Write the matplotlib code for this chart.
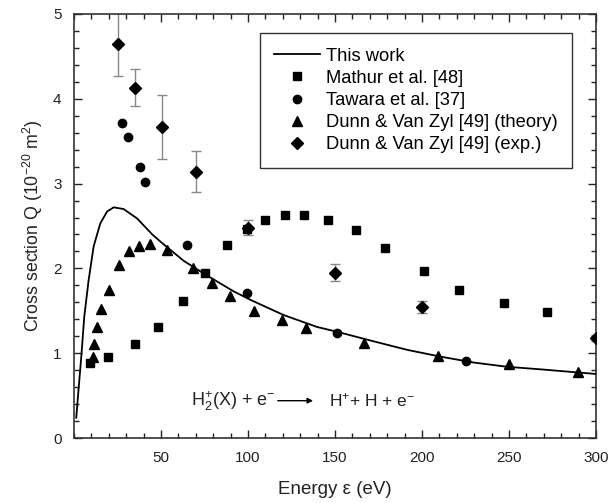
import matplotlib
matplotlib.use("Agg")
import matplotlib.pyplot as plt
from matplotlib.ticker import MultipleLocator, FixedLocator

plt.rcParams['font.family'] = ['Liberation Sans', 'DejaVu Sans']
plt.rcParams['mathtext.fontset'] = 'custom'
plt.rcParams['mathtext.rm'] = 'Liberation Sans'
plt.rcParams['mathtext.it'] = 'Liberation Sans'

# This work (theory curve)
work_x = [1.3, 2.6, 4.2, 5.9, 8.4, 11.3, 15.1, 19, 22.8, 28.5, 36.2, 45, 50, 55.3, 63,
          74.5, 91.7, 101.3, 120.5, 139.6, 151.7, 172.2, 191.4, 210.5, 229.7, 248.9,
          268, 300]
work_y = [0.24, 0.57, 0.96, 1.43, 1.86, 2.26, 2.53, 2.67, 2.72, 2.70, 2.59, 2.40, 2.31, 2.22, 2.09,
          1.94, 1.73, 1.63, 1.45, 1.31, 1.25, 1.14, 1.04, 0.96, 0.89, 0.84,
          0.81, 0.755]

# Mathur et al. [48]
mathur_x = [9, 19.5, 35, 48, 62.5, 75, 88, 99.5, 110, 121, 132, 146, 162, 179, 201, 221, 247, 272]
mathur_y = [0.89, 0.96, 1.11, 1.31, 1.62, 1.95, 2.28, 2.46, 2.57, 2.63, 2.63, 2.57, 2.45,
            2.24, 1.97, 1.75, 1.59, 1.48]

# Tawara et al. [37]
tawara_x = [27.5, 31, 38, 41, 65, 99.5, 151, 225]
tawara_y = [3.72, 3.55, 3.19, 3.02, 2.28, 1.71, 1.24, 0.91]

# Dunn & Van Zyl [49] (theory)
dth_x = [10.7, 11.3, 13, 15.7, 19.9, 26, 31.8, 37.1, 43.7, 53.6, 68.2, 79.3, 89.7,
         103.4, 119.4, 133.2, 166.7, 209, 249.8, 289.7]
dth_y = [0.955, 1.11, 1.31, 1.52, 1.75, 2.04, 2.20, 2.27, 2.29, 2.22, 2.01, 1.83, 1.68,
         1.50, 1.39, 1.30, 1.12, 0.97, 0.87, 0.78]

# Dunn & Van Zyl [49] (exp.)
dex_x = [25.1, 35.2, 50.3, 69.9, 100, 150, 200.2, 300]
dex_y = [4.65, 4.13, 3.67, 3.14, 2.48, 1.95, 1.54, 1.18]
dex_err = [0.38, 0.22, 0.38, 0.24, 0.09, 0.10, 0.07, 0.04]

fig = plt.figure(figsize=(6.08, 5.03), dpi=100)
ax = fig.add_axes([0.1217, 0.1292, 0.8586, 0.843])

ax.errorbar(dex_x, dex_y, yerr=dex_err, fmt='none', ecolor='#888888', elinewidth=1,
            capsize=3.5, capthick=1, zorder=2)
ax.plot(work_x, work_y, '-', color='black', lw=1.3, label='This work', zorder=3)
ax.plot(mathur_x, mathur_y, 's', color='black', ms=5.5, ls='none', label='Mathur et al. [48]', zorder=4)
ax.plot(tawara_x, tawara_y, 'o', color='black', ms=6, ls='none', label='Tawara et al. [37]', zorder=4)
ax.plot(dth_x, dth_y, '^', color='black', ms=7.5, ls='none',
        label='Dunn & Van Zyl [49] (theory)', zorder=4)
ax.plot(dex_x, dex_y, 'D', color='black', ms=6.5, ls='none',
        label='Dunn & Van Zyl [49] (exp.)', zorder=5)

ax.set_xlim(0, 300)
ax.set_ylim(0, 5)
ax.xaxis.set_major_locator(FixedLocator([50, 100, 150, 200, 250, 300]))
ax.xaxis.set_minor_locator(MultipleLocator(10))
ax.yaxis.set_major_locator(MultipleLocator(1))
ax.yaxis.set_minor_locator(MultipleLocator(0.2))
ax.tick_params(which='both', direction='in', top=True, right=True, labelsize=11,
               colors='#222222', width=1)
ax.tick_params(which='major', length=6, pad=9)
ax.tick_params(which='minor', length=3.5)
for s in ax.spines.values():
    s.set_linewidth(1.2)
    s.set_color('#333333')

ax.set_xlabel('Energy ε (eV)', fontsize=13.5, labelpad=12, color='#222222')
ax.set_ylabel('Cross section Q (10$^{-20}$ m$^{2}$)', fontsize=12.8, labelpad=6, color='#222222')

leg = ax.legend(loc='upper right', bbox_to_anchor=(0.954, 0.955), borderaxespad=0, fontsize=13.2,
                frameon=True, fancybox=False, edgecolor='#333333', framealpha=1,
                handlelength=2.5, handletextpad=0.3, labelspacing=0.28, borderpad=0.8,
                numpoints=1)
leg.get_frame().set_linewidth(1)

ax.text(67.5, 0.44, 'H$_2^{+}$(X) + e$^{-}$', fontsize=13, va='center', ha='left', color='#222222')
ax.annotate('', xy=(139, 0.44), xytext=(115.5, 0.44),
            arrowprops=dict(arrowstyle='-|>', color='black', lw=1, mutation_scale=8))
ax.text(146.5, 0.44, 'H$^{+}$+ H + e$^{-}$', fontsize=12.5, va='center', ha='left', color='#222222')

fig.savefig('out.png', dpi=100)
